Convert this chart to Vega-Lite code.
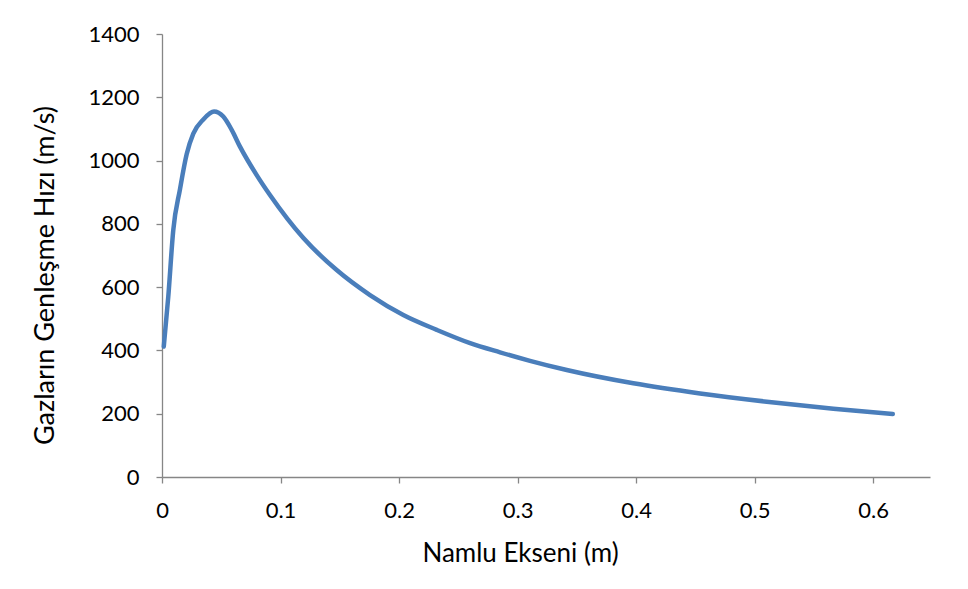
{
  "$schema": "https://vega.github.io/schema/vega-lite/v6.json",
  "width": 768,
  "height": 443,
  "autosize": {"type": "none"},
  "padding": {"left": 162, "top": 34, "right": 38, "bottom": 112},
  "background": "white",
  "config": {
    "view": {"stroke": null},
    "axis": {
      "grid": false,
      "domainColor": "#868686",
      "tickColor": "#868686",
      "domainWidth": 1.3,
      "tickWidth": 1.3,
      "tickSize": 6,
      "labelFlush": false,
      "labelFont": "Lato",
      "labelFontSize": 22,
      "labelColor": "#000000",
      "titleFont": "Lato",
      "titleFontSize": 26,
      "titleFontWeight": "normal",
      "titleColor": "#000000"
    }
  },
  "data": {
    "values": [
      {"x": 0.0015, "v": 412},
      {"x": 0.0053, "v": 570},
      {"x": 0.0095, "v": 780},
      {"x": 0.0152, "v": 910},
      {"x": 0.0208, "v": 1020},
      {"x": 0.0264, "v": 1085},
      {"x": 0.0349, "v": 1130},
      {"x": 0.0439, "v": 1155},
      {"x": 0.0517, "v": 1139},
      {"x": 0.0588, "v": 1097},
      {"x": 0.0658, "v": 1044},
      {"x": 0.0799, "v": 954},
      {"x": 0.0911, "v": 891},
      {"x": 0.1193, "v": 755},
      {"x": 0.1474, "v": 654},
      {"x": 0.1755, "v": 575},
      {"x": 0.2036, "v": 512},
      {"x": 0.2318, "v": 465},
      {"x": 0.26, "v": 423},
      {"x": 0.2852, "v": 394},
      {"x": 0.3105, "v": 367},
      {"x": 0.3415, "v": 338},
      {"x": 0.3977, "v": 296},
      {"x": 0.454, "v": 264},
      {"x": 0.5103, "v": 238},
      {"x": 0.5665, "v": 216},
      {"x": 0.6166, "v": 199}
    ]
  },
  "mark": {"type": "line", "color": "#4A7EBB", "strokeWidth": 4.5, "interpolate": "monotone", "strokeCap": "round"},
  "encoding": {
    "x": {
      "field": "x",
      "type": "quantitative",
      "scale": {"domain": [0, 0.648], "nice": false, "zero": false},
      "axis": {
        "values": [0, 0.1, 0.2, 0.3, 0.4, 0.5, 0.6],
        "format": "~g",
        "labelPadding": 17,
        "title": "Namlu Ekseni (m)",
        "titlePadding": 19,
        "titleX": 358
      }
    },
    "y": {
      "field": "v",
      "type": "quantitative",
      "scale": {"domain": [0, 1400], "nice": false},
      "axis": {
        "values": [0, 200, 400, 600, 800, 1000, 1200, 1400],
        "format": "d",
        "labelPadding": 17,
        "title": "Gazların Genleşme Hızı (m/s)",
        "titleFontSize": 27,
        "titlePadding": 28,
        "titleY": 241
      }
    }
  }
}
